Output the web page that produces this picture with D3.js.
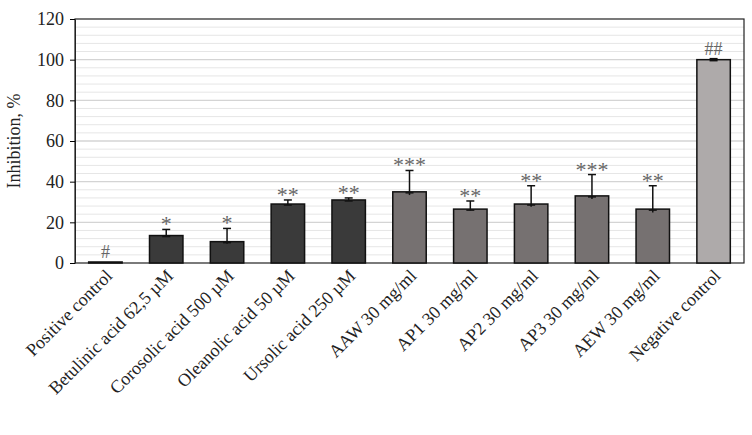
<!DOCTYPE html>
<html><head><meta charset="utf-8">
<script src="https://cdn.jsdelivr.net/npm/d3@7"></script>
<style>body{margin:0;background:#fff}text{font-family:"Liberation Serif","Times New Roman",serif}</style>
</head><body><svg id="c" width="752" height="435"></svg>
<script>
const categories = ["Positive control","Betulinic acid  62,5 µM","Corosolic acid 500 µM","Oleanolic acid 50 µM","Ursolic acid 250 µM","AAW 30 mg/ml","AP1 30 mg/ml","AP2 30 mg/ml","AP3 30 mg/ml","AEW 30 mg/ml","Negative control"];
const values = [0.5, 13.5, 10.5, 29, 31, 35, 26.5, 29, 33, 26.5, 100];
const errors = [0, 3, 6.5, 2, 1, 10.5, 4, 9, 10.5, 11.5, 0.5];
const marks = ["#","*","*","**","**","***","**","**","***","**","##"];
const groups = ["ctrl","acid","acid","acid","acid","ext","ext","ext","ext","ext","neg"];
const colors = {ctrl:"#3a3a3a", acid:"#3a3a3a", ext:"#767171", neg:"#aeaaaa"};

const svg = d3.select("#c");
const m = {l:75, r:8, t:19, b:172};
const W = 752 - m.l - m.r, H = 435 - m.t - m.b;
const g = svg.append("g").attr("transform", `translate(${m.l},${m.t})`);
const x = d3.scaleBand().domain(categories).range([0, W]).paddingInner(0.45).paddingOuter(0.225);
const y = d3.scaleLinear().domain([0, 120]).range([H, 0]);

// minor and major grid
g.selectAll("line.minor").data(d3.range(4, 120, 4).filter(v => v % 20)).enter().append("line")
  .attr("x1", 0).attr("x2", W).attr("y1", d => y(d)).attr("y2", d => y(d))
  .attr("stroke", "#e6e6e6").attr("stroke-width", 1);
g.selectAll("line.major").data(d3.range(20, 120, 20)).enter().append("line")
  .attr("x1", 0).attr("x2", W).attr("y1", d => y(d)).attr("y2", d => y(d))
  .attr("stroke", "#d4d4d4").attr("stroke-width", 1.3);

g.append("rect").attr("width", W).attr("height", H).attr("fill", "none").attr("stroke", "#222").attr("stroke-width", 1.2);

const ya = g.append("g").call(d3.axisLeft(y).tickValues(d3.range(0, 121, 20)).tickSize(5).tickSizeOuter(0).tickPadding(6));
ya.select(".domain").attr("stroke", "#222");
ya.selectAll("text").attr("font-size", 18).attr("fill", "#222");

// bars
g.selectAll("rect.bar").data(values).enter().append("rect")
  .attr("x", (d, i) => x(categories[i])).attr("width", x.bandwidth())
  .attr("y", d => y(d)).attr("height", d => H - y(d))
  .attr("fill", (d, i) => colors[groups[i]]).attr("stroke", "#111").attr("stroke-width", 1.5);

// error bars
values.forEach((v, i) => {
  const cx = x(categories[i]) + x.bandwidth() / 2;
  if (errors[i] > 0) {
    g.append("line").attr("x1", cx).attr("x2", cx).attr("y1", y(v - errors[i] * 0.15)).attr("y2", y(v + errors[i])).attr("stroke", "#111").attr("stroke-width", 1.5);
    g.append("line").attr("x1", cx - 4).attr("x2", cx + 4).attr("y1", y(v + errors[i])).attr("y2", y(v + errors[i])).attr("stroke", "#111").attr("stroke-width", 1.5);
    g.append("line").attr("x1", cx - 4).attr("x2", cx + 4).attr("y1", y(v)+1).attr("y2", y(v)+1).attr("stroke", "#111").attr("stroke-width", 1.5);
  }
  g.append("text").attr("x", cx).attr("y", y(v + errors[i]) - (marks[i][0] === "#" ? 4 : -2))
    .attr("text-anchor", "middle").attr("font-size", marks[i][0] === "#" ? 18 : 22)
    .attr("fill", "#666").text(marks[i]);
});

// x labels
g.selectAll("text.xl").data(categories).enter().append("text")
  .attr("transform", d => `translate(${x(d) + x.bandwidth() / 2 + 8},${H + 14}) rotate(-45)`)
  .attr("text-anchor", "end").attr("font-size", 18).attr("fill", "#222").text(d => d);

svg.append("text").attr("transform", `translate(20,${m.t + H / 2}) rotate(-90)`)
  .attr("text-anchor", "middle").attr("font-size", 18).attr("fill", "#222").text("Inhibition, %");
</script></body></html>
